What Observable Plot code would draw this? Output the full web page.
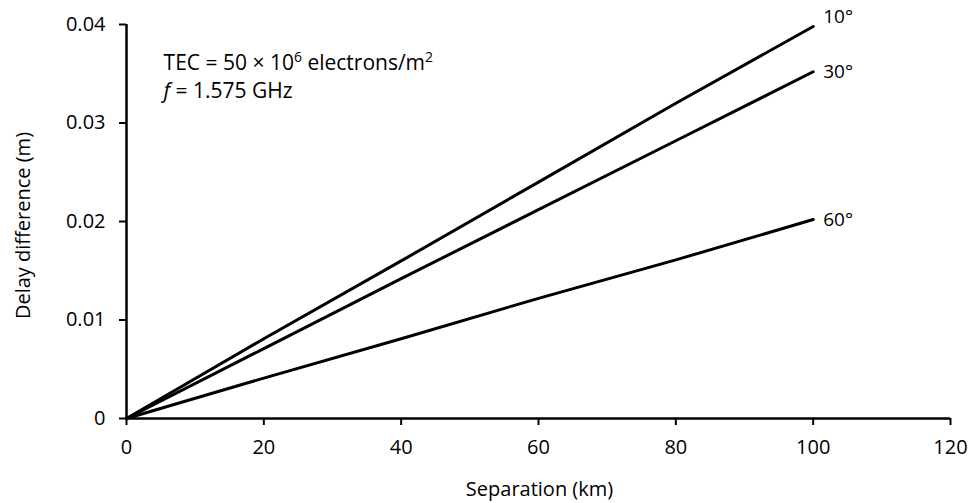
<!DOCTYPE html>
<html>
<head>
<meta charset="utf-8">
<script src="https://cdn.jsdelivr.net/npm/d3@7"></script>
<script src="https://cdn.jsdelivr.net/npm/@observablehq/plot@0.6"></script>
<style>
  html, body { margin: 0; padding: 0; background: #fff; }
  #chart svg { display: block; }
  #chart g[aria-label*="axis"] path, #chart g[aria-label*="axis"] line { stroke-width: 2 !important; }
</style>
</head>
<body>
<div id="chart"></div>
<script>
const separation = [0, 20, 40, 60, 80, 100];
const angle10 = [0, 0.0081, 0.0160, 0.0240, 0.0320, 0.0398];
const angle30 = [0, 0.0071, 0.0142, 0.0212, 0.0282, 0.0352];
const angle60 = [0, 0.0041, 0.0081, 0.0122, 0.0161, 0.0202];
const seriesNames = ["10°", "30°", "60°"];
const xTicks = [0, 20, 40, 60, 80, 100, 120];
const yTicks = [0, 0.01, 0.02, 0.03, 0.04];
const yTickLabels = ["0", "0.01", "0.02", "0.03", "0.04"];
const xLabel = "Separation (km)";
const yLabel = "Delay difference (m)";

const seriesVals = [angle10, angle30, angle60];
const rows = [];
seriesNames.forEach((name, i) => separation.forEach((s, j) => rows.push({name, x: s, y: seriesVals[i][j]})));
const ends = seriesNames.map((name, i) => ({name, x: separation[separation.length - 1], y: seriesVals[i][seriesVals[i].length - 1], dy: i === 0 ? -10 : 0}));

const plot = Plot.plot({
  width: 976,
  height: 503,
  marginLeft: 126,
  marginRight: 26,
  marginTop: 24,
  marginBottom: 85,
  style: {fontFamily: "'Open Sans', sans-serif", fontSize: "20px", color: "#000", background: "#fff"},
  x: {domain: [0, 120], ticks: xTicks, tickSize: 7, tickPadding: 14, label: null},
  y: {domain: [0, 0.04], ticks: yTicks, tickSize: 7, tickPadding: 14, tickFormat: d => yTickLabels[yTicks.indexOf(d)], label: null},
  marks: [
    Plot.ruleX([0], {stroke: "#000", strokeWidth: 2.5}),
    Plot.ruleY([0], {stroke: "#000", strokeWidth: 2.5}),
    Plot.line(rows, {x: "x", y: "y", z: "name", stroke: "#000", strokeWidth: 3}),
    Plot.text(ends.filter(d => d.dy === 0), {x: "x", y: "y", text: "name", textAnchor: "start", dx: 10, fontSize: 19}),
    Plot.text(ends.filter(d => d.dy !== 0), {x: "x", y: "y", text: "name", textAnchor: "start", dx: 10, dy: -10, fontSize: 19}),
    Plot.text(["TEC = 50 × 10"], {x: 5.4, y: 0.0361, textAnchor: "start", fontSize: 21}),
    Plot.text(["f = 1.575 GHz"], {x: 5.4, y: 0.0332, textAnchor: "start", fontSize: 21}),
    Plot.text([xLabel], {frameAnchor: "bottom", textAnchor: "middle", lineAnchor: "middle", dx: 1, dy: 71, fontSize: 20}),
    Plot.text([yLabel], {frameAnchor: "left", textAnchor: "middle", lineAnchor: "middle", rotate: -90, dx: -103, dy: 4, fontSize: 20})
  ]
});

plot.querySelectorAll("text").forEach(t => {
  if (t.textContent === "TEC = 50 × 10") {
    t.innerHTML = 'TEC = 50 × 10<tspan dy="-8" font-size="14">6</tspan><tspan dy="8"> electrons/m</tspan><tspan dy="-8" font-size="14">2</tspan>';
  } else if (t.textContent === "f = 1.575 GHz") {
    t.innerHTML = '<tspan font-style="italic">f</tspan> = 1.575 GHz';
  }
});
document.getElementById("chart").appendChild(plot);
</script>
</body>
</html>
